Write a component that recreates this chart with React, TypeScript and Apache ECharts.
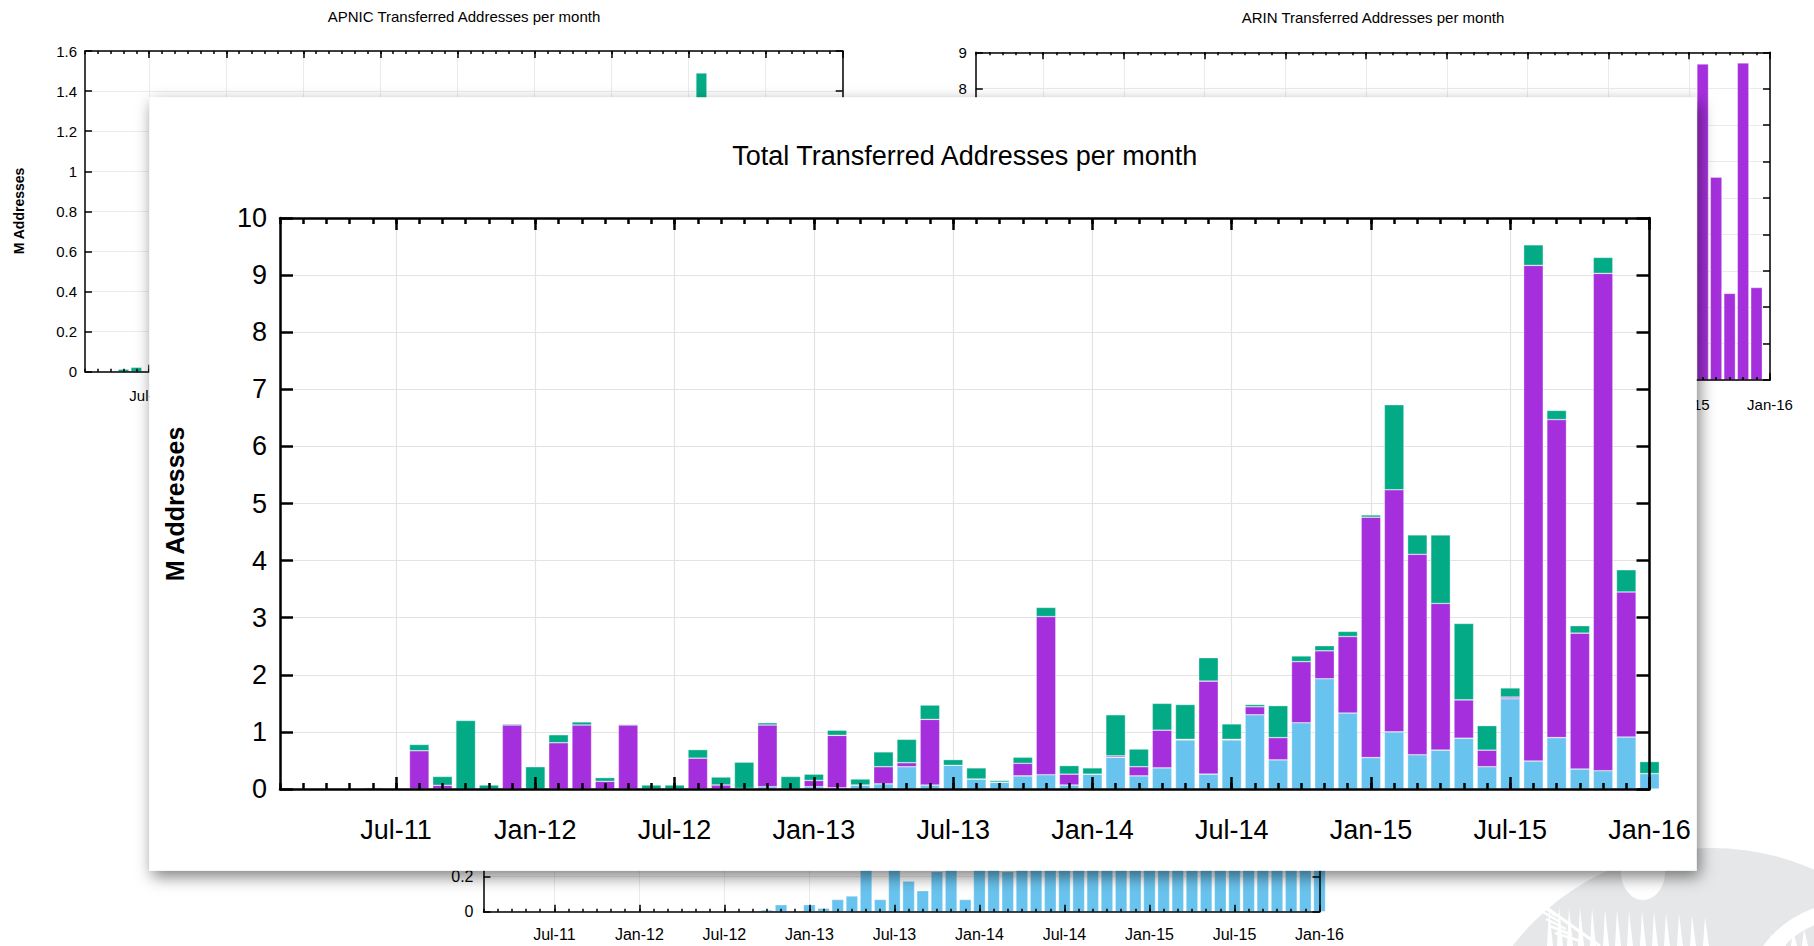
import React, { useEffect, useRef } from 'react';
import * as echarts from 'echarts';

const months = [
  'Feb-11', 'Mar-11', 'Apr-11', 'May-11', 'Jun-11', 'Jul-11', 'Aug-11', 'Sep-11', 'Oct-11', 'Nov-11', 'Dec-11',
  'Jan-12', 'Feb-12', 'Mar-12', 'Apr-12', 'May-12', 'Jun-12', 'Jul-12', 'Aug-12', 'Sep-12', 'Oct-12', 'Nov-12', 'Dec-12',
  'Jan-13', 'Feb-13', 'Mar-13', 'Apr-13', 'May-13', 'Jun-13', 'Jul-13', 'Aug-13', 'Sep-13', 'Oct-13', 'Nov-13', 'Dec-13',
  'Jan-14', 'Feb-14', 'Mar-14', 'Apr-14', 'May-14', 'Jun-14', 'Jul-14', 'Aug-14', 'Sep-14', 'Oct-14', 'Nov-14', 'Dec-14',
  'Jan-15', 'Feb-15', 'Mar-15', 'Apr-15', 'May-15', 'Jun-15', 'Jul-15', 'Aug-15', 'Sep-15', 'Oct-15', 'Nov-15', 'Dec-15',
  'Jan-16',
];

// RIPE NCC (light blue), M addresses per month
const ripe = [
  0, 0, 0, 0, 0, 0, 0, 0, 0, 0, 0,
  0, 0, 0, 0, 0, 0, 0, 0, 0, 0.01, 0.04, 0,
  0.04, 0.02, 0.07, 0.09, 0.39, 0.07, 0.415, 0.175, 0.12, 0.23, 0.25, 0.07,
  0.26, 0.555, 0.23, 0.37, 0.86, 0.26, 0.86, 1.3, 0.51, 1.16, 1.93, 1.33,
  0.55, 1.0, 0.6, 0.68, 0.89, 0.39, 1.58, 0.49, 0.9, 0.35, 0.32, 0.91,
  0.27,
];

// ARIN (purple)
const arin = [
  0, 0, 0, 0, 0, 0, 0.67, 0.065, 0, 0, 1.12,
  0, 0.81, 1.12, 0.135, 1.12, 0, 0, 0.54, 0.07, 0, 1.08, 0,
  0.11, 0.92, 0, 0.3, 0.07, 1.15, 0, 0, 0, 0.22, 2.77, 0.19,
  0, 0.025, 0.16, 0.66, 0.01, 1.63, 0.01, 0.14, 0.39, 1.07, 0.49, 1.34,
  4.21, 4.24, 3.51, 2.57, 0.67, 0.29, 0.03, 8.68, 5.57, 2.38, 8.71, 2.54,
  0,
];

// APNIC (green)
const apnic = [
  0, 0, 0, 0.013, 0.022, 0, 0.11, 0.155, 1.2, 0.07, 0.02,
  0.39, 0.14, 0.055, 0.065, 0.015, 0.07, 0.07, 0.15, 0.14, 0.46, 0.04, 0.22,
  0.11, 0.09, 0.105, 0.26, 0.41, 0.25, 0.1, 0.195, 0.03, 0.105, 0.16, 0.15,
  0.11, 0.72, 0.31, 0.47, 0.61, 0.41, 0.27, 0.04, 0.56, 0.1, 0.09, 0.09,
  0.04, 1.49, 0.34, 1.2, 1.34, 0.43, 0.16, 0.36, 0.16, 0.13, 0.28, 0.39,
  0.21,
];

const mainTitle = 'Total Transferred Addresses per month';
const apnicTitle = 'APNIC Transferred Addresses per month';
const arinTitle = 'ARIN Transferred Addresses per month';
const yName = 'M Addresses';

const BLUE = '#68c3ee';
const PURPLE = '#a52fdc';
const GREEN = '#02ab86';
const FONT = '"Liberation Sans", Arial, Helvetica, sans-serif';

const majorFn = (i: number) => i % 6 === 5;

type AxCfg = {
  grid: number; zLow: number; zHigh: number; lw: number; minor: number; major: number; yTick: number;
  fs: number; xMargin: number; yMargin: number; yMin: number; yMax: number; yInt: number;
  gridColor: string; gridW: number; yFormatter?: (v: number) => string;
};

function makeAxes(c: AxCfg) {
  const common = { type: 'category', data: months, boundaryGap: false, gridIndex: c.grid };
  const line = { color: '#000', width: c.lw };
  const none = { show: false };
  const xs: any[] = [
    { ...common, z: c.zLow, position: 'bottom', axisLine: { show: false, onZero: false }, axisTick: none, axisLabel: none,
      splitLine: { show: true, interval: majorFn, lineStyle: { color: c.gridColor, width: c.gridW } } },
    { ...common, z: c.zHigh, position: 'bottom', axisLine: { show: true, onZero: false, lineStyle: line },
      axisTick: { show: true, inside: true, length: c.minor, interval: 0, lineStyle: line },
      axisLabel: { show: true, interval: majorFn, color: '#000', fontSize: c.fs, lineHeight: c.fs, fontFamily: FONT, margin: c.xMargin },
      splitLine: none },
    { ...common, z: c.zHigh, position: 'bottom', axisLine: { show: false, onZero: false },
      axisTick: { show: true, inside: true, length: c.major, interval: majorFn, lineStyle: line }, axisLabel: none, splitLine: none },
    { ...common, z: c.zHigh, position: 'top', axisLine: { show: true, onZero: false, lineStyle: line },
      axisTick: { show: true, inside: true, length: c.minor, interval: 0, lineStyle: line }, axisLabel: none, splitLine: none },
    { ...common, z: c.zHigh, position: 'top', axisLine: { show: false, onZero: false },
      axisTick: { show: true, inside: true, length: c.major, interval: majorFn, lineStyle: line }, axisLabel: none, splitLine: none },
  ];
  const vcommon = { type: 'value', min: c.yMin, max: c.yMax, interval: c.yInt, gridIndex: c.grid };
  const label: any = { show: true, color: '#000', fontSize: c.fs, fontFamily: FONT, margin: c.yMargin };
  if (c.yFormatter) label.formatter = c.yFormatter;
  const ys: any[] = [
    { ...vcommon, z: c.zLow, position: 'left', axisLine: { show: false }, axisTick: none, axisLabel: none,
      splitLine: { show: true, lineStyle: { color: c.gridColor, width: c.gridW } } },
    { ...vcommon, z: c.zHigh, position: 'left', axisLine: { show: true, onZero: false, lineStyle: line },
      axisTick: { show: true, inside: true, length: c.yTick, lineStyle: line },
      axisLabel: label, splitLine: none },
    { ...vcommon, z: c.zHigh, position: 'right', axisLine: { show: true, onZero: false, lineStyle: line },
      axisTick: { show: true, inside: true, length: c.yTick, lineStyle: line }, axisLabel: none, splitLine: none },
  ];
  return { xs, ys };
}

function buildOption() {
  const grids = [
    { left: 85, top: 51, width: 757.7, height: 320.7 },      // APNIC
    { left: 975.8, top: 52.3, width: 794.2, height: 327.7 }, // ARIN
    { left: 483.5, top: 561.7, width: 836, height: 350 },    // RIPE NCC
    { left: 280, top: 218, width: 1369.5, height: 571 },     // Total
  ];
  const bg = { zLow: 1, zHigh: 3, lw: 1.5, minor: 3, major: 7, yTick: 7, gridColor: '#ebebeb', gridW: 1 };
  const a0 = makeAxes({ ...bg, grid: 0, fs: 15, xMargin: 16, yMargin: 8, yMin: 0, yMax: 1.6, yInt: 0.2 });
  // ARIN's lower tick labels lie under the front card, only 8 and 9 show
  const a1 = makeAxes({ ...bg, grid: 1, fs: 15, xMargin: 16.5, yMargin: 9, yMin: 0, yMax: 9, yInt: 1,
    yFormatter: (v: number) => (v >= 8 ? String(v) : '') });
  const a2 = makeAxes({ ...bg, grid: 2, fs: 16, xMargin: 15, yMargin: 10, yMin: 0, yMax: 2, yInt: 0.2 });
  const a3 = makeAxes({ grid: 3, zLow: 10, zHigh: 13, lw: 2.5, minor: 6, major: 12, yTick: 13, fs: 27, xMargin: 27.5, yMargin: 13,
    yMin: 0, yMax: 10, yInt: 1, gridColor: '#e3e3e3', gridW: 1.2 });
  const all = [a0, a1, a2, a3];
  const xAxis = all.flatMap((a) => a.xs);
  const yAxis = all.flatMap((a) => a.ys);
  const xi = (g: number) => g * 5 + 1;
  const yi = (g: number) => g * 3 + 1;
  const border = { borderColor: 'rgba(255,255,255,0.55)', borderWidth: 0.6 };

  const series: any[] = [
    { type: 'bar', name: 'APNIC', xAxisIndex: xi(0), yAxisIndex: yi(0), data: apnic, barWidth: 11, z: 2, clip: false,
      itemStyle: { color: GREEN, ...border } },
    { type: 'bar', name: 'ARIN', xAxisIndex: xi(1), yAxisIndex: yi(1), data: arin, barWidth: 11.6, z: 2, clip: false,
      itemStyle: { color: PURPLE, ...border } },
    { type: 'bar', name: 'RIPE NCC', xAxisIndex: xi(2), yAxisIndex: yi(2), data: ripe, barWidth: 12, z: 2, clip: false,
      itemStyle: { color: BLUE, ...border } },
    { type: 'bar', name: 'RIPE NCC', stack: 'total', xAxisIndex: xi(3), yAxisIndex: yi(3), data: ripe, barWidth: 19.6, z: 12, clip: false,
      itemStyle: { color: BLUE, ...border } },
    { type: 'bar', name: 'ARIN', stack: 'total', xAxisIndex: xi(3), yAxisIndex: yi(3), data: arin, barWidth: 19.6, z: 12, clip: false,
      itemStyle: { color: PURPLE, ...border } },
    { type: 'bar', name: 'APNIC', stack: 'total', xAxisIndex: xi(3), yAxisIndex: yi(3), data: apnic, barWidth: 19.6, z: 12, clip: false,
      itemStyle: { color: GREEN, ...border } },
  ];

  // decorative fern emblem, bottom right
  const spikes = [
    [1550, 908], [1560, 906], [1570, 907], [1581, 907], [1593, 908], [1606, 909], [1618, 910], [1630, 911],
    [1643, 911], [1655, 912], [1667, 913], [1680, 914], [1693, 915], [1706, 917],
    [1772, 934], [1783, 931], [1794, 930], [1805, 929],
  ];
  const leaflets = [
    [1541, 905, 1556, 916], [1543, 912, 1560, 922], [1546, 919, 1566, 929], [1550, 926, 1572, 935], [1555, 933, 1580, 941],
  ];
  const graphic: any[] = [
    { type: 'circle', z: 0, shape: { cx: 1712, cy: 1100, r: 252 }, style: { fill: '#e6e7e8' } },
    { type: 'arc', z: 0, shape: { cx: 1850, cy: 1010, r: 100, startAngle: Math.PI, endAngle: Math.PI * 1.5 },
      style: { stroke: '#ffffff', lineWidth: 16, fill: 'none' } },
    { type: 'ellipse', z: 0, shape: { cx: 1643, cy: 872, rx: 22, ry: 28 }, style: { fill: '#ffffff' } },
    ...spikes.map(([x, y]) => ({
      type: 'polygon', z: 0,
      shape: { points: [[x - 3, 946], [x - 1, y], [x + 3, 946]] },
      style: { fill: '#ffffff' },
    })),
    { type: 'line', z: 0, shape: { x1: 1540, y1: 903, x2: 1600, y2: 946 }, style: { stroke: '#ffffff', lineWidth: 3 } },
    ...leaflets.map(([x1, y1, x2, y2]) => ({
      type: 'line', z: 0, shape: { x1, y1, x2, y2 }, style: { stroke: '#ffffff', lineWidth: 2.5 },
    })),
    { type: 'text', z: 3, x: 464, y: 16, style: { text: apnicTitle, fill: '#000', fontSize: 15, fontFamily: FONT,
      textAlign: 'center', textVerticalAlign: 'middle', verticalAlign: 'middle' } },
    { type: 'text', z: 3, x: 1373, y: 17, style: { text: arinTitle, fill: '#000', fontSize: 15, fontFamily: FONT,
      textAlign: 'center', textVerticalAlign: 'middle', verticalAlign: 'middle' } },
    { type: 'text', z: 3, x: 18.5, y: 211, rotation: Math.PI / 2, style: { text: yName, fill: '#000', fontSize: 14, fontWeight: 'bold',
      fontFamily: FONT, textAlign: 'center', textVerticalAlign: 'middle', verticalAlign: 'middle' } },
    { type: 'rect', z: 5, shape: { x: 149.3, y: 97.3, width: 1547.4, height: 773.4 },
      style: { fill: '#ffffff', shadowBlur: 16, shadowColor: 'rgba(0,0,0,0.5)', shadowOffsetX: 3, shadowOffsetY: 6 } },
    { type: 'text', z: 13, x: 964.75, y: 156, style: { text: mainTitle, fill: '#000', fontSize: 27, fontFamily: FONT,
      textAlign: 'center', textVerticalAlign: 'middle', verticalAlign: 'middle' } },
    { type: 'text', z: 13, x: 175, y: 504, rotation: Math.PI / 2, style: { text: yName, fill: '#000', fontSize: 25, fontWeight: 'bold',
      fontFamily: FONT, textAlign: 'center', textVerticalAlign: 'middle', verticalAlign: 'middle' } },
  ];

  return {
    animation: false,
    backgroundColor: '#ffffff',
    grid: grids.map((g) => ({ ...g, containLabel: false })),
    xAxis,
    yAxis,
    series,
    graphic,
  };
}

export default function App() {
  const ref = useRef<HTMLDivElement>(null);
  useEffect(() => {
    if (!ref.current) return;
    const chart = echarts.init(ref.current, null, { renderer: 'svg' });
    chart.setOption(buildOption() as any);
    return () => chart.dispose();
  }, []);
  return (
    <div style={{ position: 'fixed', left: 0, top: 0, width: 1814, height: 946, background: '#fff' }}>
      <div ref={ref} style={{ width: 1814, height: 946 }} />
    </div>
  );
}
